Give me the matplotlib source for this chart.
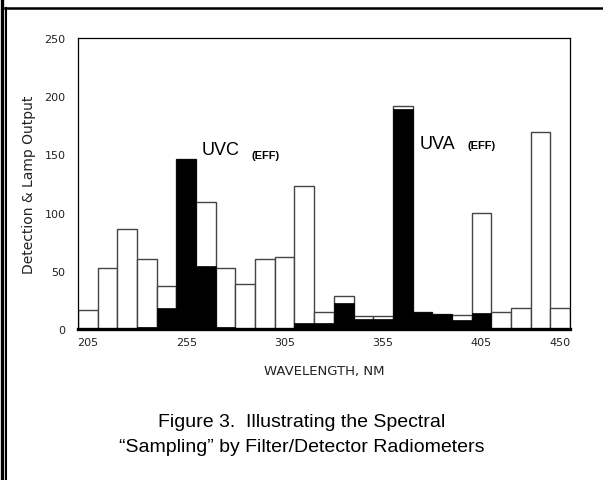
import numpy as np
import matplotlib
matplotlib.use("Agg")
import matplotlib.pyplot as plt
from matplotlib.lines import Line2D

# 10 nm bins, 205 ... 445 (last one labelled 450 on the original)
bins = np.arange(205, 450, 10)
lamp = [16, 52, 86, 60, 37, 146, 109, 52, 39, 60, 62, 123, 15, 28, 11,
        11, 192, 15, 13, 12, 100, 15, 18, 169, 18]          # lamp output (white)
detect = [0, 0, 0, 2, 18, 146, 54, 2, 0, 0, 0, 5, 5, 22, 9,
          9, 189, 15, 13, 8, 14, 0, 0, 0, 0]                 # detection (black)
tick_idx = [0, 5, 10, 15, 20, 24]
tick_lbl = ["205", "255", "305", "355", "405", "450"]

fig = plt.figure(figsize=(6.03, 4.81), dpi=100)
ax = fig.add_axes([78/603, 1-330/481, (570-78)/603, (330-39)/481])

x = np.arange(len(bins))
ax.bar(x, lamp, width=1.0, color="white", edgecolor="#444444", lw=1.0, zorder=2)
ax.bar(x, detect, width=1.0, color="black", edgecolor="black", lw=0.5, zorder=3)

ax.set_xlim(-0.5, len(bins) - 0.5)
ax.set_ylim(0, 250)
ax.set_yticks([0, 50, 100, 150, 200, 250])
ax.set_xticks(tick_idx)
ax.set_xticklabels(tick_lbl)
ax.tick_params(length=0, labelsize=8, colors="#222222", pad=6)
ax.tick_params(axis="y", pad=9)
for s in ["top", "left", "right"]:
    ax.spines[s].set_linewidth(0.9)
ax.spines["bottom"].set_linewidth(2.4)
ax.spines["bottom"].set_zorder(5)

ax.set_xlabel("WAVELENGTH, NM", fontsize=9.5, color="#222222", labelpad=12)
ax.set_ylabel("Detection & Lamp Output", fontsize=10, color="#222222", labelpad=6)

# band labels
ax.text(5.8, 150, "UVC", fontsize=13, family="Liberation Sans", va="baseline")
ax.text(8.3, 147, "(EFF)", fontsize=8, weight="bold", family="Liberation Sans", va="baseline")
ax.text(16.85, 155.5, "UVA", fontsize=13, family="Liberation Sans", va="baseline")
ax.text(19.3, 155.5, "(EFF)", fontsize=8, weight="bold", family="Liberation Sans", va="baseline")

# caption
fig.text(302/603, 1-414/481, "Figure 3.  Illustrating the Spectral", ha="center", va="top",
         fontsize=14, family="Liberation Sans")
fig.text(302/603, 1-439/481, "\u201cSampling\u201d by Filter/Detector Radiometers", ha="center",
         va="top", fontsize=14, family="Liberation Sans")

# page frame
W, H = 603, 481
fig.add_artist(Line2D([1.7/W, 1.7/W], [0, 1], color="black", lw=2.4))
fig.add_artist(Line2D([6/W, 6/W], [0, 1-8.5/H], color="black", lw=1.5))
fig.add_artist(Line2D([5/W, 1], [1-8.5/H, 1-8.5/H], color="black", lw=1.8))

fig.savefig("out.png", dpi=100)
